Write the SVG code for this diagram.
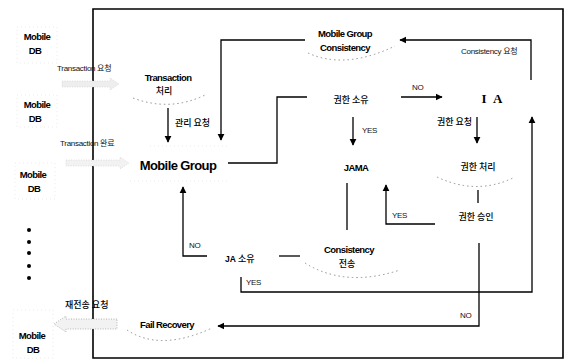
<svg xmlns="http://www.w3.org/2000/svg" width="566" height="361" viewBox="0 0 566 361">
<style>
.t{font-family:"Liberation Sans","Noto Sans CJK KR",sans-serif;font-size:8px;fill:#111;letter-spacing:-0.3px}
.b{font-family:"Liberation Sans","Noto Sans CJK KR",sans-serif;font-size:9.5px;font-weight:bold;fill:#000;letter-spacing:-0.6px}
.k{font-family:"Noto Sans CJK KR","Liberation Sans",sans-serif;font-size:9px;font-weight:500;fill:#000}
.big{font-family:"Liberation Sans",sans-serif;font-size:13px;font-weight:bold;fill:#000;letter-spacing:-0.6px}
.ln{fill:none;stroke:#000;stroke-width:1.3}
.dot{fill:none;stroke:#777;stroke-width:0.8;stroke-dasharray:1.5 3}
.faint{fill:none;stroke:#ddd;stroke-width:0.6;stroke-dasharray:1 3}
</style>
<defs>
<marker id="ah" viewBox="0 0 10 10" refX="9" refY="5" markerWidth="7" markerHeight="8" orient="auto" markerUnits="userSpaceOnUse">
<path d="M0,0 L10,5 L0,10 z" fill="#000"/>
</marker>
</defs>
<rect width="566" height="361" fill="#fff"/>
<!-- frame -->
<path d="M93,9 H563 V358 H93 Z" fill="none" stroke="#000" stroke-width="1.6"/>

<!-- left side -->
<g id="mdb1"><rect x="17" y="27" width="40" height="36" class="faint"/><text class="b" x="37" y="40" text-anchor="middle">Mobile</text><text class="b" x="35" y="54" text-anchor="middle">DB</text></g>
<g id="mdb2"><rect x="17" y="95" width="40" height="32" class="faint"/><text class="b" x="37" y="108" text-anchor="middle">Mobile</text><text class="b" x="35" y="122" text-anchor="middle">DB</text></g>
<g id="mdb3"><rect x="15" y="163" width="40" height="36" class="faint"/><text class="b" x="33" y="178" text-anchor="middle">Mobile</text><text class="b" x="34" y="192" text-anchor="middle">DB</text></g>
<g id="dots" fill="#000"><circle cx="29" cy="230" r="2"/><circle cx="29" cy="242" r="2"/><circle cx="29" cy="253" r="2"/><circle cx="29" cy="266" r="2"/><circle cx="29" cy="278" r="2"/></g>
<g id="mdb4"><rect x="13" y="310" width="40" height="48" class="faint"/><text class="b" x="32" y="339" text-anchor="middle">Mobile</text><text class="b" x="33" y="353" text-anchor="middle">DB</text></g>

<g id="treq"><text class="t" x="57" y="71">Transaction 요청</text><path d="M62,81 H110 V78 L119,84 L110,90 V87 H62 Z" fill="#eee" stroke="#ccc" stroke-width="0.6" stroke-dasharray="1 1.5"/></g>
<g id="tdone"><text class="t" x="60" y="146">Transaction 완료</text><path d="M66,160 H120 V157 L129,163 L120,169 V166 H66 Z" fill="#f2f2f2" stroke="#ccc" stroke-width="0.6" stroke-dasharray="1 1.5"/></g>
<g id="resend"><text class="k" x="65" y="308" font-size="8">재전송 요청</text><path d="M117,319 H66 V316 L54,324 L66,332 V329 H117 Z" fill="#f2f2f2" stroke="#999" stroke-width="0.7" stroke-dasharray="1 1.5"/></g>

<!-- nodes -->
<g id="mgc"><text class="b" x="345" y="37" text-anchor="middle">Mobile Group</text><text class="b" x="345" y="51" text-anchor="middle">Consistency</text><path class="dot" d="M308,53 Q345,70 395,46"/></g>
<g id="trans"><text class="b" x="168" y="81" text-anchor="middle">Transaction</text><text class="k" x="164" y="94" text-anchor="middle" font-weight="bold">처리</text><path class="dot" d="M133,98 Q170,112 205,95"/></g>
<g id="mg"><text class="big" x="178" y="170" text-anchor="middle">Mobile Group</text><path class="faint" d="M150,146 H228 M130,181 H228"/></g>
<g id="own"><text class="k" x="351" y="103" text-anchor="middle">권한 소유</text></g>
<g id="ia"><text x="493" y="103" text-anchor="middle" font-family="Liberation Serif,serif" font-weight="bold" font-size="13" letter-spacing="2">I A</text></g>
<g id="jama"><text class="b" x="356" y="171" text-anchor="middle" font-size="11">JAMA</text></g>
<g id="proc"><text class="k" x="478" y="170" text-anchor="middle">권한 처리</text><path class="dot" d="M437,177 Q477,196 515,177"/></g>
<g id="appr"><text class="k" x="476" y="220" text-anchor="middle">권한 승인</text></g>
<g id="cons"><text class="b" x="349" y="253" text-anchor="middle">Consistency</text><text class="k" x="347" y="267" text-anchor="middle" font-weight="bold">전송</text><path class="dot" d="M305,263 Q345,288 400,270"/></g>
<g id="ja"><text class="k" x="225" y="262"><tspan font-family="Liberation Sans" font-weight="bold" font-size="8.5">JA</tspan> 소유</text></g>
<g id="fail"><text class="b" x="167" y="328" text-anchor="middle">Fail Recovery</text><path class="dot" d="M127,330 Q160,352 212,328"/></g>

<!-- connectors -->
<g id="connectors">
<path class="ln" d="M305,40 H221 V140" marker-end="url(#ah)"/>
<path class="ln" d="M168,108 V142" marker-end="url(#ah)"/>
<text class="k" x="175" y="126" font-size="8">관리 요청</text>
<path class="ln" d="M228,163 H277 V97 H307"/>
<path class="ln" d="M353,117 V145" marker-end="url(#ah)"/>
<text class="t" x="362" y="133" font-size="7.5">YES</text>
<path class="ln" d="M401,97 H442" marker-end="url(#ah)"/>
<text class="t" x="412" y="90" font-size="7.5">NO</text>
<path class="ln" d="M531,80 V40 H400" marker-end="url(#ah)"/>
<text class="t" x="461" y="54">Consistency 요청</text>
<path class="ln" d="M477,117 V143" marker-end="url(#ah)"/>
<text class="k" x="437" y="125" font-size="8">권한 요청</text>
<path class="ln" d="M478,190 V203"/>
<path class="ln" d="M435,224 H386 V185" marker-end="url(#ah)"/>
<text class="t" x="392" y="218" font-size="7.5">YES</text>
<path class="ln" d="M347,183 V230"/>
<path class="ln" d="M279,256 H300"/>
<path class="ln" d="M207,256 H183 V187" marker-end="url(#ah)"/>
<text class="t" x="189" y="248" font-size="7.5">NO</text>
<path class="ln" d="M241,277 V292 H532 V117" marker-end="url(#ah)"/>
<text class="t" x="246" y="285" font-size="7.5">YES</text>
<path class="ln" d="M479,243 V326 H218" marker-end="url(#ah)"/>
<text class="t" x="460" y="318" font-size="7.5">NO</text>
</g>
</svg>
